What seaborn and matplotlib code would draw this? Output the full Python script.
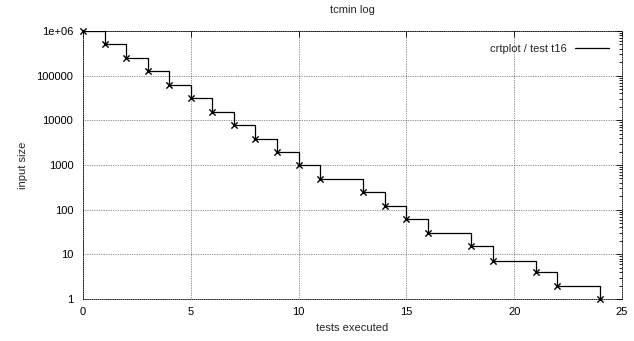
import numpy as np
import pandas as pd
import seaborn as sns
import matplotlib.pyplot as plt
from matplotlib.ticker import FixedLocator, LogLocator, NullFormatter

# --- Data ---
tests = [0, 1, 2, 3, 4, 5, 6, 7, 8, 9, 10, 11, 13, 14, 15, 16, 18, 19, 21, 22, 24]
size = [1000000, 500000, 250000, 125000, 62500, 31250, 15625, 7812, 3906, 1953,
        976, 488, 244, 122, 61, 30, 15, 7, 4, 2, 1]
y_ticks = [1, 10, 100, 1000, 10000, 100000, 1000000]
y_labels = ["1", "10", "100", "1000", "10000", "100000", "1e+06"]
x_ticks = [0, 5, 10, 15, 20, 25]

df = pd.DataFrame({"tests executed": tests, "input size": size})

# --- Graph ---
sns.set_style("white")
plt.rcParams["font.family"] = ["Liberation Sans", "DejaVu Sans"]
plt.rcParams["font.size"] = 8

fig = plt.figure(figsize=(6.34, 3.41), dpi=100)
ax = fig.add_axes([83 / 634, 1 - 299 / 341, 539 / 634, 268 / 341])

sns.lineplot(data=df, x="tests executed", y="input size", ax=ax,
             drawstyle="steps-post", color="black", linewidth=0.9,
             label="crtplot / test t16", zorder=3)
sns.scatterplot(data=df, x="tests executed", y="input size", ax=ax,
                marker="x", s=20, linewidth=1, color="black", zorder=4,
                legend=False, clip_on=False)

ax.set_yscale("log")
ax.set_xlim(0, 25)
ax.set_ylim(1, 1000000)
ax.xaxis.set_major_locator(FixedLocator(x_ticks))
ax.set_xticklabels([str(t) for t in x_ticks])
ax.yaxis.set_major_locator(FixedLocator(y_ticks))
ax.set_yticklabels(y_labels)
ax.yaxis.set_minor_locator(LogLocator(base=10, subs=np.arange(2, 10), numticks=20))
ax.yaxis.set_minor_formatter(NullFormatter())

ax.tick_params(which="both", direction="in", top=True, right=True,
               colors="black", labelsize=8)
ax.tick_params(axis="y", pad=7)
ax.tick_params(axis="x", pad=6)
ax.tick_params(which="major", length=4, width=0.6)
ax.tick_params(which="minor", length=2, width=0.6)

ax.grid(True, which="major", linestyle=(0, (1, 1.5)), color="#333333", linewidth=0.5)
for sp in ax.spines.values():
    sp.set_linestyle((0, (1, 1.5)))
    sp.set_linewidth(0.6)
    sp.set_color("black")

ax.set_xlabel("tests executed", fontsize=8, labelpad=4)
ax.set_ylabel("input size", fontsize=8, labelpad=6)
ax.set_title("tcmin log", fontsize=8, pad=13)

leg = ax.legend(loc="upper right", frameon=False, markerfirst=False,
                handlelength=3, fontsize=8, borderaxespad=0.8)

plt.savefig("out.png", dpi=100)
